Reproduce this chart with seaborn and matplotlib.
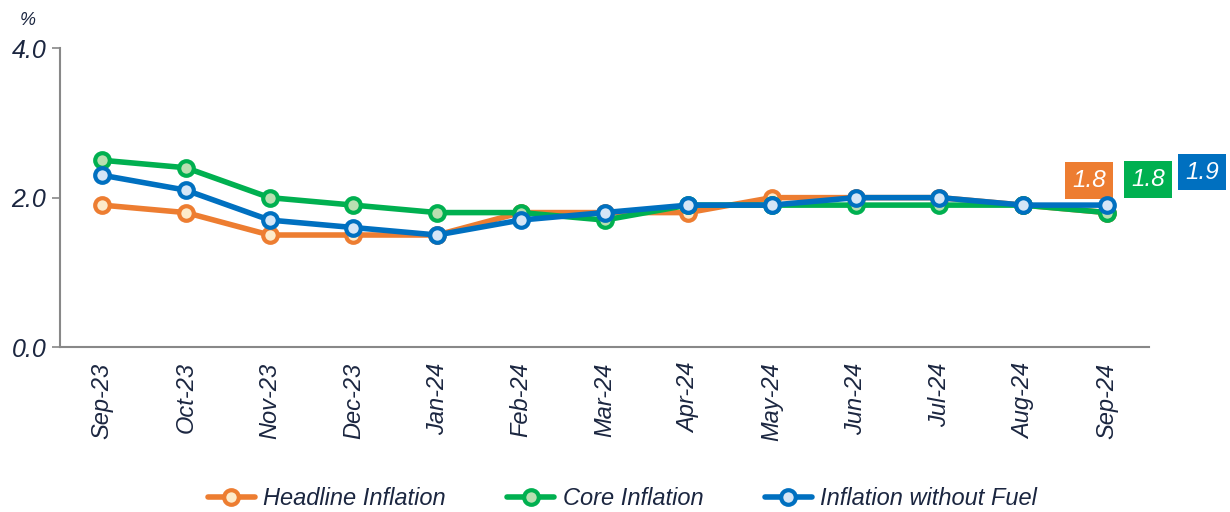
import matplotlib
matplotlib.use("Agg")
import matplotlib.pyplot as plt
import seaborn as sns
import pandas as pd

# Datos
months = ["Sep-23", "Oct-23", "Nov-23", "Dec-23", "Jan-24", "Feb-24", "Mar-24",
          "Apr-24", "May-24", "Jun-24", "Jul-24", "Aug-24", "Sep-24"]
headline = [1.9, 1.8, 1.5, 1.5, 1.5, 1.8, 1.8, 1.8, 2.0, 2.0, 2.0, 1.9, 1.8]
core = [2.5, 2.4, 2.0, 1.9, 1.8, 1.8, 1.7, 1.9, 1.9, 1.9, 1.9, 1.9, 1.8]
no_fuel = [2.3, 2.1, 1.7, 1.6, 1.5, 1.7, 1.8, 1.9, 1.9, 2.0, 2.0, 1.9, 1.9]
series_names = ["Headline Inflation", "Core Inflation", "Inflation without Fuel"]

colores = ["#ED7D31", "#00B050", "#0070C0"]
rellenos = ["#FDEBCB", "#B9DFB1", "#D5E6F6"]
offsets = [(-18, 32), (41, 33), (95, 33)]
texto = "#1B2640"

sns.set_style("white")
plt.rcParams["font.family"] = ["Liberation Sans", "DejaVu Sans"]

fig = plt.figure(figsize=(12.3, 5.12), dpi=100)
ax = fig.add_axes([0.049, 0.322, 0.885, 0.584])

df = pd.DataFrame({"month": months * 3,
                   "valor": headline + core + no_fuel,
                   "serie": [s for s in series_names for _ in months]})

for i, nombre in enumerate(series_names):
    sub = df[df["serie"] == nombre]
    sns.lineplot(data=sub, x="month", y="valor", ax=ax, color=colores[i],
                 linewidth=4, marker="o", markersize=10.5,
                 markerfacecolor=rellenos[i], markeredgecolor=colores[i],
                 markeredgewidth=3, label=nombre, zorder=3 + i, sort=False)
    # etiqueta del último valor
    ultimo = sub["valor"].iloc[-1]
    ax.annotate(f"{ultimo:.1f}", xy=(len(months) - 1, ultimo),
                xytext=offsets[i], textcoords="offset pixels",
                ha="center", va="center", fontsize=17.5, style="italic",
                color="white", annotation_clip=False,
                bbox=dict(boxstyle="square,pad=0.28", fc=colores[i], ec="none"))

ax.set_xlim(-0.5, len(months) - 0.5)
ax.set_ylim(0, 4)
ax.set_yticks([0, 2, 4])
ax.set_yticklabels(["0.0", "2.0", "4.0"], fontsize=18, style="italic", color=texto)
ax.set_xticks(range(len(months)))
ax.set_xticklabels(months, rotation=90, fontsize=17, style="italic", color=texto)
ax.set_xticks([i - 0.5 for i in range(len(months) + 1)], minor=True)
ax.tick_params(axis="x", which="major", length=0, pad=11)
ax.tick_params(axis="x", which="minor", length=6, width=1.2, color="#888888", direction="out")
ax.tick_params(axis="y", length=6, width=1.2, color="#888888", direction="out", left=True, pad=4)
ax.set_xlabel("")
ax.set_ylabel("")

for lado in ["top", "right"]:
    ax.spines[lado].set_visible(False)
for lado in ["left", "bottom"]:
    ax.spines[lado].set_color("#888888")
    ax.spines[lado].set_linewidth(1.5)

fig.text(0.016, 0.952, "%", fontsize=13, style="italic", color=texto)

ax.get_legend().remove()
handles, labels = ax.get_legend_handles_labels()
fig.legend(handles, labels, loc="lower center", bbox_to_anchor=(0.506, -0.038), ncol=3,
           frameon=False, prop={"style": "italic", "size": 17},
           handlelength=2.0, columnspacing=2.6, handletextpad=0.35)
for t in fig.legends[0].get_texts():
    t.set_color(texto)

fig.savefig("out.png", dpi=100)
plt.close(fig)
